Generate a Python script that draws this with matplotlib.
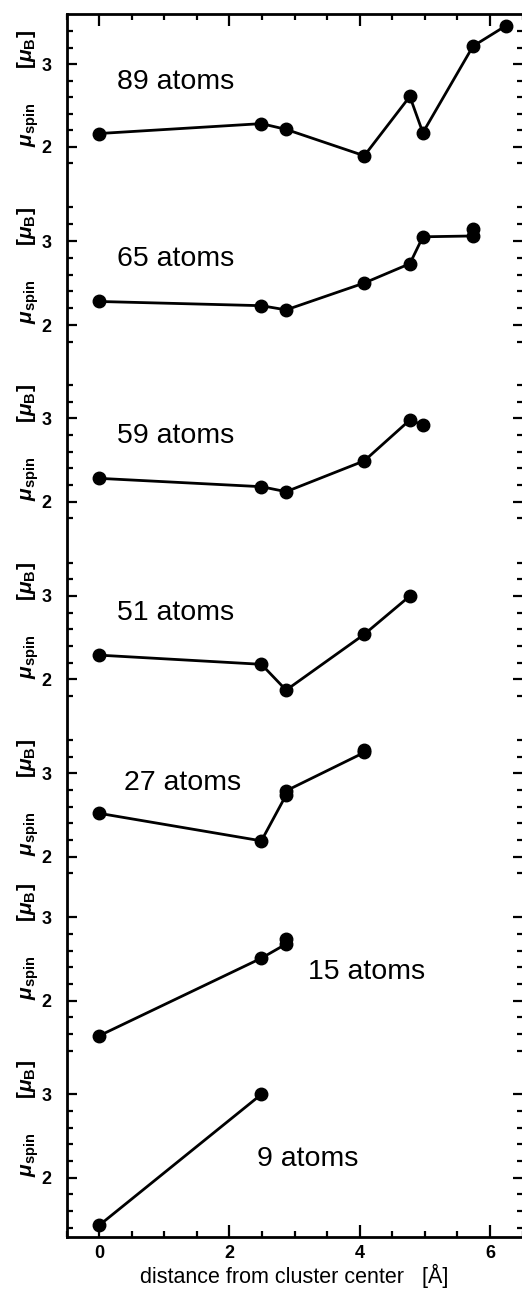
import numpy as np
import matplotlib.pyplot as plt
from matplotlib.ticker import FixedLocator, MultipleLocator
from matplotlib.transforms import blended_transform_factory

plt.rcParams['font.family'] = ['Liberation Sans', 'DejaVu Sans']
plt.rcParams['mathtext.fontset'] = 'custom'
plt.rcParams['mathtext.rm'] = 'Liberation Sans:bold'
plt.rcParams['mathtext.it'] = 'Liberation Sans:bold:italic'
plt.rcParams['mathtext.bf'] = 'Liberation Sans:bold'

# datos: distancia al centro [A] y momento de espin [muB]
etiquetas = ['89 atoms', '65 atoms', '59 atoms', '51 atoms', '27 atoms', '15 atoms', '9 atoms']

r_89 = [0.0, 2.49, 2.87, 4.07, 4.77, 4.97, 5.74, 6.25]
m_89 = [2.16, 2.28, 2.21, 1.89, 2.61, 2.17, 3.22, 3.47]

r_65 = [0.0, 2.49, 2.87, 4.07, 4.77, 4.97, 5.74, 5.74]
m_65 = [2.28, 2.23, 2.18, 2.50, 2.73, 3.05, 3.06, 3.14]

r_59 = [0.0, 2.49, 2.87, 4.07, 4.77, 4.97]
m_59 = [2.28, 2.18, 2.12, 2.49, 2.98, 2.92]

r_51 = [0.0, 2.49, 2.87, 4.07, 4.77]
m_51 = [2.29, 2.18, 1.87, 2.54, 3.00]

r_27 = [0.0, 2.49, 2.87, 2.87, 4.07, 4.07]
m_27 = [2.52, 2.19, 2.74, 2.79, 3.25, 3.28]

r_15 = [0.0, 2.49, 2.87, 2.87]
m_15 = [1.58, 2.51, 2.68, 2.74]

r_9 = [0.0, 2.49]
m_9 = [1.43, 3.00]

series = [(r_89, m_89), (r_65, m_65), (r_59, m_59), (r_51, m_51),
          (r_27, m_27), (r_15, m_15), (r_9, m_9)]

# marcas del eje y de cada panel
ticks_y = [np.arange(1.8, 3.41, 0.2)] * 5 + [np.arange(1.4, 3.01, 0.2)] * 2

# posiciones de las etiquetas (x, y en datos del panel)
pos_etq_x = [0.28, 0.28, 0.28, 0.28, 0.38, 3.21, 2.42]
pos_etq_y = [2.79, 2.78, 2.79, 2.80, 2.88, 2.35, 2.23]

# layout en pixeles (desde arriba) de las marcas 3 y 2 de cada panel
W, H = 522, 1290
y3_px = [64.3, 241.0, 418.3, 596.0, 773.3, 917.3, 1094.3]
y2_px = [146.7, 325.0, 501.7, 679.3, 856.7, 1000.7, 1177.7]
x0_px, x1_px = 66.7, 522.5
top_px, bot_px = 14.0, 1237.0

fig = plt.figure(figsize=(W / 100, H / 100), dpi=100)

# marco principal
marco = fig.add_axes([x0_px / W, 1 - bot_px / H, (x1_px - x0_px) / W, (bot_px - top_px) / H])
marco.set_xlim(-0.5, 6.5)
marco.set_ylim(0, 1)
for s in marco.spines.values():
    s.set_linewidth(2.0)
marco.xaxis.set_major_locator(MultipleLocator(2))
marco.xaxis.set_minor_locator(MultipleLocator(0.5))
marco.tick_params(axis='x', which='both', direction='in', top=True, bottom=True, width=1.6)
marco.tick_params(axis='x', which='major', length=8.5, labelsize=13, pad=6)
marco.tick_params(axis='x', which='minor', length=4.5)
for lab in marco.get_xticklabels():
    lab.set_fontweight('bold')
marco.set_yticks([])
marco.set_xlabel('distance from cluster center   [Å]', fontsize=15.5, labelpad=1)

lo, hi = 1.2, 3.65
for i, ((r, m), etq) in enumerate(zip(series, etiquetas)):
    esc = y2_px[i] - y3_px[i]
    ax_top = y3_px[i] - (hi - 3) * esc
    ax_bot = y2_px[i] + (2 - lo) * esc
    ax = fig.add_axes([x0_px / W, 1 - ax_bot / H, (x1_px - x0_px) / W, (ax_bot - ax_top) / H])
    ax.patch.set_alpha(0)
    for s in ax.spines.values():
        s.set_visible(False)
    ax.set_xlim(-0.5, 6.5)
    ax.set_ylim(lo, hi)
    ax.set_xticks([])

    ax.plot(r, m, color='black', linewidth=2.0, marker='o', markersize=9, clip_on=False)
    ax.text(pos_etq_x[i], pos_etq_y[i], etq, fontsize=20.5, ha='left', va='center')

    menores = [t for t in ticks_y[i] if abs(t - 2) > 0.01 and abs(t - 3) > 0.01]
    ax.yaxis.set_major_locator(FixedLocator([2, 3]))
    ax.yaxis.set_minor_locator(FixedLocator(menores))
    ax.tick_params(axis='y', which='both', direction='in', left=True, right=True, width=1.6)
    ax.tick_params(axis='y', which='major', length=7.5, labelsize=13, pad=11)
    ax.tick_params(axis='y', which='minor', length=4)
    ax.set_yticklabels(['2', '3'], fontweight='bold')

    tr = blended_transform_factory(ax.transAxes, ax.transData)
    ax.text((28 - x0_px) / (x1_px - x0_px), 2.71, r'$\mu_{\rm spin}$      $[\mu_{\rm B}]$',
            transform=tr, rotation=90, ha='center', va='center', fontsize=15)

plt.savefig('out.png', dpi=100)
